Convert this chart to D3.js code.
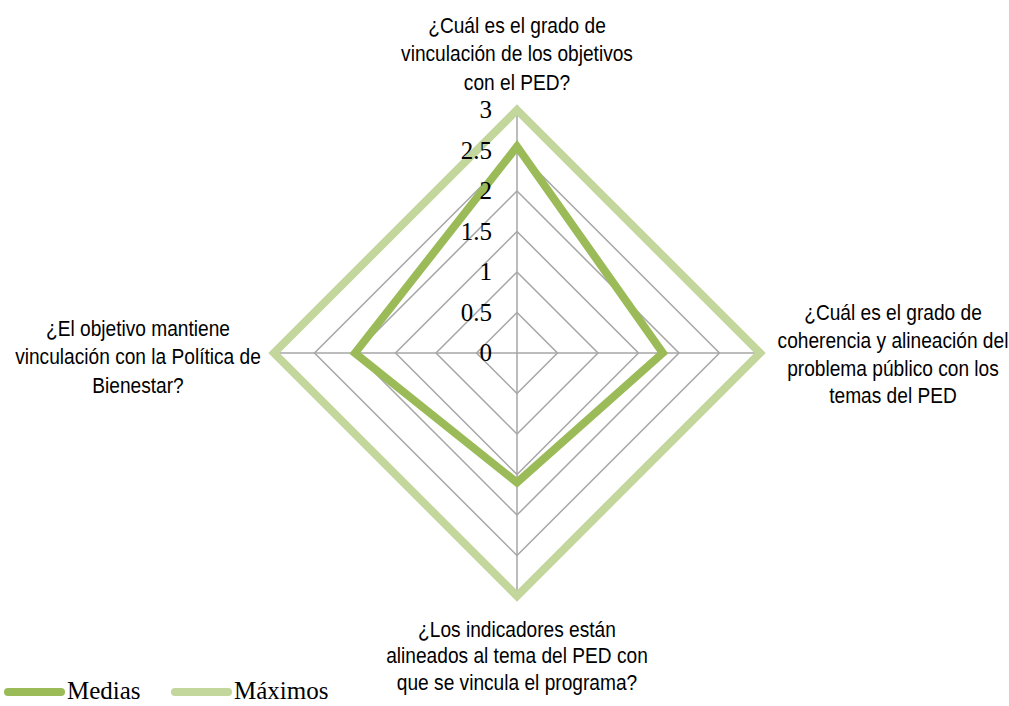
<!DOCTYPE html>
<html><head><meta charset="utf-8">
<script src="https://cdn.jsdelivr.net/npm/d3@7"></script>
<style>body{margin:0;background:#fff}</style>
</head><body>
<svg id="c" width="1009" height="706"></svg>
<script>
const categories = [
  ["¿Cuál es el grado de","vinculación de los objetivos","con el PED?"],
  ["¿Cuál es el grado de","coherencia y alineación del","problema público con los","temas del PED"],
  ["¿Los indicadores están","alineados al tema del PED con","que se vincula el programa?"],
  ["¿El objetivo mantiene","vinculación con la Política de","Bienestar?"]
];
const medias = [2.55, 1.8, 1.6, 2.0];
const maximos = [3, 3, 3, 3];
const ticks = [0, 0.5, 1, 1.5, 2, 2.5, 3];
const seriesNames = ["Medias", "Máximos"];

const svg = d3.select("#c");
const cx = 517, cy = 353, R = 243;
const r = d3.scaleLinear().domain([0, 3]).range([0, R]);
const ang = d3.scaleLinear().domain([0, categories.length]).range([0, 2*Math.PI]);
const pt = (v, i) => [cx + r(v)*Math.sin(ang(i)), cy - r(v)*Math.cos(ang(i))];
const labelFont = "'Liberation Sans',Arial,sans-serif";
const serif = "'Liberation Serif','DejaVu Serif',serif";

// grid
const g = svg.append("g");
ticks.slice(1).forEach(t => {
  g.append("path").attr("d", d3.line()(categories.map((c,i)=>pt(t,i)).concat([pt(t,0)])))
   .attr("fill","none").attr("stroke","#A6A6A6").attr("stroke-width",1.5);
});
categories.forEach((c,i)=>{
  g.append("line").attr("x1",cx).attr("y1",cy).attr("x2",pt(3,i)[0]).attr("y2",pt(3,i)[1])
   .attr("stroke","#A6A6A6").attr("stroke-width",1.5);
});

// series
const line = d3.line().curve(d3.curveLinearClosed);
svg.append("path").attr("d", line(maximos.map((v,i)=>pt(v,i))))
  .attr("fill","none").attr("stroke","#C3D69B").attr("stroke-width",8).attr("stroke-linejoin","miter");
svg.append("path").attr("d", line(medias.map((v,i)=>pt(v,i))))
  .attr("fill","none").attr("stroke","#9BBB59").attr("stroke-width",8).attr("stroke-linejoin","miter");

// tick labels
ticks.forEach(t=>{
  svg.append("text").attr("x", cx-25).attr("y", cy - r(t) + 8)
    .attr("text-anchor","end").attr("font-family",serif).attr("font-size",25).attr("fill","#000")
    .text(t);
});

// category labels (condensed look via horizontal scale)
const labelPos = [
  {x:517, y:33, dy:28.5},
  {x:893, y:320, dy:27.8},
  {x:517, y:637, dy:26.5},
  {x:138, y:336, dy:28.5}
];
categories.forEach((lines,i)=>{
  const p = labelPos[i];
  const grp = svg.append("g").attr("transform",`translate(${p.x},0) scale(0.87,1)`);
  const t = grp.append("text").attr("text-anchor","middle").attr("font-family",labelFont)
    .attr("font-size",22).attr("fill","#000");
  lines.forEach((l,j)=>t.append("tspan").attr("x",0).attr("y",p.y+j*p.dy).text(l));
});

// legend
const legX = [8, 175];
const legColors = ["#9BBB59","#C3D69B"];
seriesNames.forEach((n,i)=>{
  svg.append("line").attr("x1",legX[i]).attr("x2",legX[i]+53).attr("y1",692).attr("y2",692)
    .attr("stroke",legColors[i]).attr("stroke-width",8).attr("stroke-linecap","round");
  svg.append("text").attr("x",legX[i]+59).attr("y",699).attr("font-family",serif).attr("font-size",25)
    .attr("fill","#000").text(n);
});
</script>
</body></html>
